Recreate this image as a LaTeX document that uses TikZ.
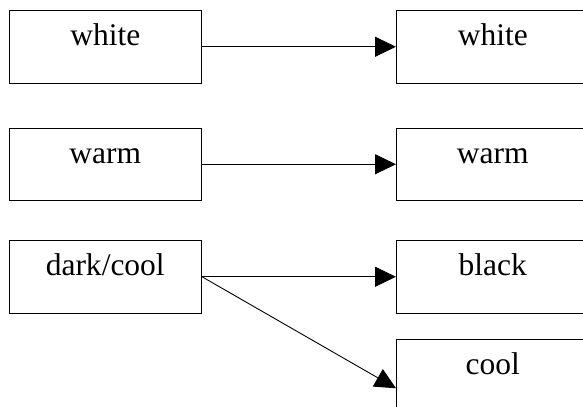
\documentclass[tikz,border=0pt]{standalone}
\usepackage{fontspec}
\setmainfont{Liberation Serif}
\usetikzlibrary{positioning,arrows.meta}
\begin{document}
\begin{tikzpicture}[
						x=1bp, y=1bp,
						box/.style={rectangle, draw=black, line width=1bp, minimum width=192.5bp, inner sep=0pt, text height=35bp, text depth=37.5bp, font=\fontsize{31.5bp}{36bp}\selectfont},
						link/.style={line width=0.9bp, -{Triangle[length=21bp,width=20bp]}}
					]
					\useasboundingbox (0,0) rectangle (583,-406);
					\node[box, anchor=north west] (white) at (8.5,-10) {white};
					\node[box] (warm) [below=44bp of white] {warm};
					\node[box] (dark) [below=39bp of warm] {dark/cool};
					\node[box] (whiteR) [right=194bp of white] {white};
					\node[box] (warmR) [right=194bp of warm] {warm};
					\node[box] (black) [right=194bp of dark] {black};
					\node[box] (cool) [below=25bp of black] {cool};
					\begin{scope}[link]
					\draw (white.east) -- (whiteR.west);
					\draw (warm.east) -- (warmR.west);
					\draw (dark.east) -- (black.west);
					\draw (dark.east) -- ([yshift=-13bp]cool.west);
					\end{scope}
					\end{tikzpicture}
\end{document}
